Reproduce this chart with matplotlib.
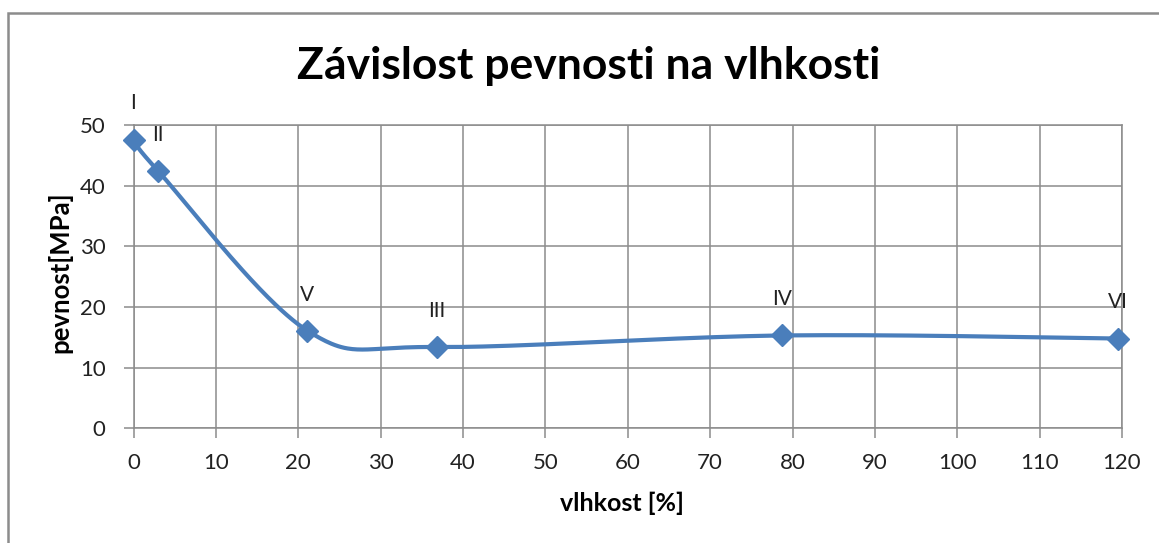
import numpy as np
import matplotlib
matplotlib.use("Agg")
import matplotlib.pyplot as plt
from matplotlib.patches import Rectangle

# Data
vlhkost = [0.0, 3.0, 21.1, 36.8, 78.7, 119.5]
pevnost = [47.6, 42.4, 16.1, 13.4, 15.3, 14.8]
labels = ["I", "II", "V", "III", "IV", "VI"]
x_ticks = list(range(0, 121, 10))
y_ticks = list(range(0, 51, 10))

title = "Závislost pevnosti na vlhkosti"
xlabel = "vlhkost [%]"
ylabel = "pevnost[MPa]"

plt.rcParams['font.family'] = ['Lato', 'DejaVu Sans']

W, H = 1159, 543
fig = plt.figure(figsize=(W / 100, H / 100), dpi=100)
fig.patch.set_facecolor('white')

# outer chart frame (only left and top edges visible)
fig.patches.append(Rectangle((8 / W, -0.05), 1.1, 1 - 13 / H + 0.05,
                             transform=fig.transFigure, fill=False,
                             edgecolor='#8c8c8c', linewidth=1.8))

ax = fig.add_axes([133.5 / W, 1 - 428.3 / H, (1122 - 133.5) / W, (428.3 - 125) / H])
ax.set_xlim(0, 120)
ax.set_ylim(0, 50)
ax.set_xticks(x_ticks)
ax.set_yticks(y_ticks)
ax.grid(True, color='#8c8c8c', linewidth=1.1)
ax.set_axisbelow(True)
for s in ax.spines.values():
    s.set_color('#8c8c8c')
    s.set_linewidth(1.1)
ax.tick_params(axis='both', direction='out', length=7, width=1.1, color='#8c8c8c',
               labelsize=16, labelcolor='#222222')
ax.tick_params(axis='x', pad=11)
ax.tick_params(axis='y', pad=13)

# Smooth line (Excel-like Bezier smoothing) computed in display space
fig.canvas.draw()
pts = ax.transData.transform(np.column_stack([vlhkost, pevnost]))
n = len(pts)
curve = []
for i in range(n - 1):
    p0 = pts[i - 1] if i > 0 else pts[i]
    p1 = pts[i]
    p2 = pts[i + 1]
    p3 = pts[i + 2] if i + 2 < n else pts[i + 1]
    c1 = p1 + (p2 - p0) / 6.0
    c2 = p2 - (p3 - p1) / 6.0
    t = np.linspace(0, 1, 60)[:, None]
    seg = ((1 - t) ** 3) * p1 + 3 * ((1 - t) ** 2) * t * c1 + 3 * (1 - t) * t ** 2 * c2 + t ** 3 * p2
    curve.append(seg if i == 0 else seg[1:])
curve = np.vstack(curve)
curve_data = ax.transData.inverted().transform(curve)

color = '#4A7EBB'
ax.plot(curve_data[:, 0], curve_data[:, 1], color=color, linewidth=3.0,
        solid_capstyle='round', clip_on=False, zorder=3)
ax.plot(vlhkost, pevnost, linestyle='none', marker='D', markersize=11.5,
        color=color, clip_on=False, zorder=4)

for x, y, lab in zip(vlhkost, pevnost, labels):
    ax.annotate(lab, (x, y), xytext=(0, 26), textcoords='offset points',
                ha='center', va='center', fontsize=15, color='#222222',
                annotation_clip=False)

fig.text(589 / W, 1 - 66 / H, title, ha='center', va='center',
         fontsize=32, fontweight='bold', color='black')
fig.text(622 / W, 1 - 503 / H, xlabel, ha='center', va='center',
         fontsize=18, fontweight='bold', color='black')
fig.text(60 / W, 1 - 272 / H, ylabel, ha='center', va='center', rotation=90,
         fontsize=18.5, fontweight='bold', color='black')

fig.savefig('out.png', dpi=100, facecolor='white')
